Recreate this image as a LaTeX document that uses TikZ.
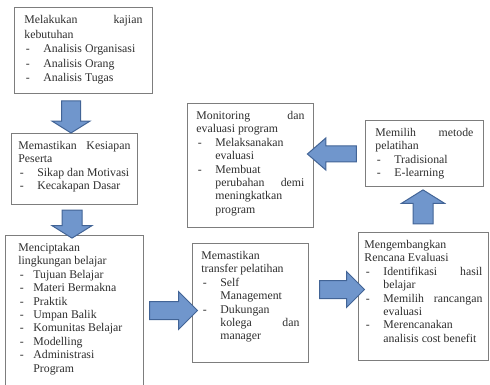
\documentclass[tikz,border=0pt]{standalone}
\usepackage{fontspec}
\setmainfont{Liberation Serif}
\usetikzlibrary{shapes.arrows}
\definecolor{boxline}{RGB}{125,125,125}
\definecolor{arrfill}{RGB}{112,150,204}
\definecolor{arrline}{RGB}{66,100,150}
\definecolor{ink}{RGB}{45,45,45}
\hbadness=10000
% top-aligned text block of a box: height, width, text
\newcommand{\boxtext}[3]{\parbox[t][#1][t]{#2}{#3}}
% list entry with a dash and hanging indent
\newcommand{\itm}[1][19pt]{\par\hangindent=#1\hangafter=1\noindent\makebox[#1][l]{\hspace{1.5pt}-}\ignorespaces}

\begin{document}
\begin{tikzpicture}[
  x=1pt,y=-1pt,
  font=\fontsize{11.8}{13.4}\selectfont,
  box/.style={draw=boxline,line width=0.8pt,anchor=north west,inner sep=0pt,text=ink},
  blockarr/.style={single arrow,draw=arrline,fill=arrfill,line width=1pt,inner xsep=0pt,single arrow head indent=0pt}
]
\useasboundingbox (0,0) rectangle (490,385);

\node[box,minimum width=138pt,minimum height=86pt] (kajian) at (14,7)
  {\boxtext{70pt}{118pt}{\fontsize{11.8}{14.5}\selectfont
   Melakukan kajian\linebreak kebutuhan
   \itm Analisis Organisasi
   \itm Analisis Orang
   \itm Analisis Tugas}};
\node[box,minimum width=126pt,minimum height=71pt] (kesiapan) at (11,133)
  {\boxtext{55pt}{112pt}{Memastikan Kesiapan\linebreak Peserta
   \itm Sikap dan Motivasi
   \itm Kecakapan Dasar}};
\node[box,minimum width=138pt,minimum height=160pt] (lingkungan) at (5,235)
  {\boxtext{144pt}{112pt}{Menciptakan\linebreak lingkungan belajar
   \itm[15pt] Tujuan Belajar
   \itm[15pt] Materi Bermakna
   \itm[15pt] Praktik
   \itm[15pt] Umpan Balik
   \itm[15pt] Komunitas Belajar
   \itm[15pt] Modelling
   \itm[15pt] Administrasi\linebreak Program}};
\node[box,minimum width=116pt,minimum height=119pt] (transfer) at (192,243)
  {\boxtext{103pt}{98pt}{Memastikan\linebreak transfer pelatihan
   \itm Self\linebreak Management
   \itm Dukungan\linebreak kolega dan\linebreak manager}};
\node[box,minimum width=130pt,minimum height=128pt] (rencana) at (358,232)
  {\boxtext{112pt}{118pt}{Mengembangkan\linebreak Rencana Evaluasi
   \itm Identifikasi hasil\linebreak belajar
   \itm Memilih rancangan\linebreak evaluasi
   \itm Merencanakan\linebreak analisis cost benefit}};
\node[box,minimum width=118pt,minimum height=66pt] (metode) at (365,120)
  {\boxtext{50pt}{98pt}{Memilih metode\linebreak pelatihan
   \itm Tradisional
   \itm E-learning}};
\node[box,minimum width=126pt,minimum height=124pt] (monitoring) at (187,103)
  {\boxtext{108pt}{108pt}{Monitoring dan\linebreak evaluasi program
   \itm Melaksanakan\linebreak evaluasi
   \itm Membuat\linebreak perubahan demi\linebreak meningkatkan\linebreak program}};

% block arrows between the steps
\node[blockarr,rotate=-90,minimum height=32pt,inner ysep=9pt,
  single arrow head extend=9.5pt,single arrow tip angle=116] (a1) at (71,114) {};
\node[blockarr,rotate=-90,minimum height=28pt,inner ysep=9.5pt,
  single arrow head extend=10pt,single arrow tip angle=116] (a2) at (72,221) {};
\node[blockarr,minimum height=48pt,inner ysep=8.5pt,
  single arrow head extend=10pt] (a3) at (169,310.5) {};
\node[blockarr,minimum height=45pt,inner ysep=8.5pt,
  single arrow head extend=9pt] (a4) at (337.5,289.5) {};
\node[blockarr,rotate=90,minimum height=34pt,inner ysep=9.5pt,
  single arrow head extend=11.5pt,single arrow tip angle=116] (a5) at (423,210) {};
\node[blockarr,rotate=180,minimum height=49pt,inner ysep=7.5pt,
  single arrow head extend=8pt,single arrow tip angle=82] (a6) at (336.5,154) {};
\end{tikzpicture}
\end{document}
